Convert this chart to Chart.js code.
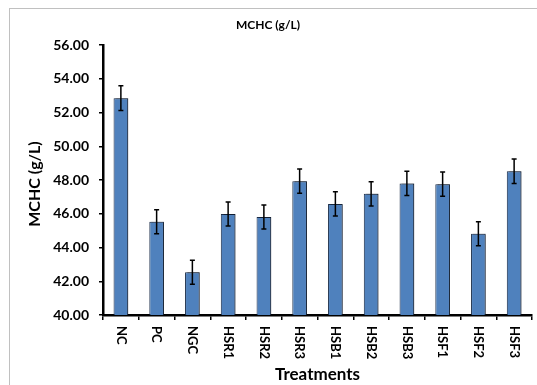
<!DOCTYPE html>
<html><head><meta charset="utf-8">
<script src="https://cdn.jsdelivr.net/npm/chart.js@4/dist/chart.umd.min.js"></script>
<style>html,body{margin:0;padding:0;background:#fff}#wrap{width:537px;height:385px;position:relative}</style>
</head><body><div id="wrap"><canvas id="c" width="537" height="385"></canvas></div>
<script>
const categories = ['NC','PC','NGC','HSR1','HSR2','HSR3','HSB1','HSB2','HSB3','HSF1','HSF2','HSF3'];
const mchcMeans = [52.85,45.52,42.53,45.99,45.81,47.93,46.58,47.18,47.80,47.75,44.82,48.52];
const mchcErrors = [0.73,0.71,0.71,0.71,0.71,0.72,0.72,0.72,0.72,0.72,0.71,0.73];
const yTicks = [40,42,44,46,48,50,52,54,56];
const chartTitle = 'MCHC (g/L)';
const yTitle = 'MCHC (g/L)';
const xTitle = 'Treatments';

const FONT = 'Lato, "Liberation Sans", sans-serif';

const deco = {
  id: 'deco',
  beforeDraw(chart) {
    const ctx = chart.ctx;
    ctx.save();
    ctx.fillStyle = '#fff';
    ctx.fillRect(0, 0, chart.width, chart.height);
    ctx.strokeStyle = '#c0c0c0';
    ctx.lineWidth = 1;
    ctx.strokeRect(9.5, 8.5, 700, 700);
    ctx.restore();
  },
  beforeDatasetsDraw(chart) {
    const ctx = chart.ctx;
    ctx.save();
    ctx.shadowColor = 'rgba(0,0,0,0.35)';
    ctx.shadowOffsetX = 2;
    ctx.shadowOffsetY = -1;
    ctx.shadowBlur = 1;
  },
  afterDatasetsDraw(chart) {
    const ctx = chart.ctx;
    ctx.restore();
    const meta = chart.getDatasetMeta(0);
    const ys = chart.scales.y;
    ctx.save();
    ctx.strokeStyle = '#000';
    ctx.lineWidth = 1.5;
    meta.data.forEach((bar, i) => {
      const x = bar.x;
      const yT = ys.getPixelForValue(mchcMeans[i] + mchcErrors[i]);
      const yB = ys.getPixelForValue(mchcMeans[i] - mchcErrors[i]);
      ctx.beginPath();
      ctx.moveTo(x, yT); ctx.lineTo(x, yB);
      ctx.moveTo(x - 2.5, yT); ctx.lineTo(x + 2.5, yT);
      ctx.moveTo(x - 2.5, yB); ctx.lineTo(x + 2.5, yB);
      ctx.stroke();
    });
    ctx.restore();
  },
  afterDraw(chart) {
    const ctx = chart.ctx;
    const xs = chart.scales.x;
    const area = chart.chartArea;
    ctx.save();
    ctx.fillStyle = '#000';
    // x tick labels, rotated clockwise
    ctx.font = 'bold 13px ' + FONT;
    ctx.textAlign = 'left';
    ctx.textBaseline = 'middle';
    categories.forEach((lab, i) => {
      const x = xs.getPixelForValue(i);
      ctx.save();
      ctx.translate(x, area.bottom + 11);
      ctx.rotate(Math.PI / 2);
      ctx.fillText(lab, 0, 0);
      ctx.restore();
    });
    // x title
    ctx.textAlign = 'center';
    ctx.font = 'bold 17px ' + FONT;
    ctx.fillText(xTitle, (area.left + area.right) / 2, 375);
    // y title
    ctx.save();
    ctx.translate(35, 184);
    ctx.rotate(-Math.PI / 2);
    ctx.font = 'bold 16px ' + FONT;
    ctx.fillText(yTitle, 0, 0);
    ctx.restore();
    // chart title
    ctx.font = 'bold 12px ' + FONT;
    ctx.fillText(chartTitle, 268, 25);
    ctx.restore();
  }
};

new Chart(document.getElementById('c'), {
  type: 'bar',
  data: {
    labels: categories,
    datasets: [{
      data: mchcMeans,
      backgroundColor: '#4F81BD',
      borderColor: '#1a2c48',
      borderWidth: 1,
      categoryPercentage: 1,
      barPercentage: 0.41
    }]
  },
  options: {
    responsive: false,
    animation: false,
    devicePixelRatio: 1,
    layout: { padding: { top: 45, right: 5, left: 0, bottom: 0 } },
    plugins: { legend: { display: false }, title: { display: false }, tooltip: { enabled: false } },
    scales: {
      x: {
        type: 'category',
        offset: true,
        grid: { offset: true, drawOnChartArea: false, drawTicks: true, tickLength: 5, color: '#000', lineWidth: 1.5 },
        border: { display: true, color: '#000', width: 2.5 },
        ticks: { display: false },
        afterFit: s => { s.height = 70; }
      },
      y: {
        min: 40, max: 56,
        afterBuildTicks: s => { s.ticks = yTicks.map(v => ({ value: v })); },
        ticks: { color: '#000', padding: 10, font: { family: FONT, size: 14, weight: 'bold' }, callback: v => Number(v).toFixed(2) },
        grid: { drawOnChartArea: false, drawTicks: true, tickLength: 4, color: '#000', lineWidth: 1.5 },
        border: { display: true, color: '#000', width: 2.5 },
        afterFit: s => { s.width = 103; }
      }
    }
  },
  plugins: [deco]
});
</script>
</body></html>
